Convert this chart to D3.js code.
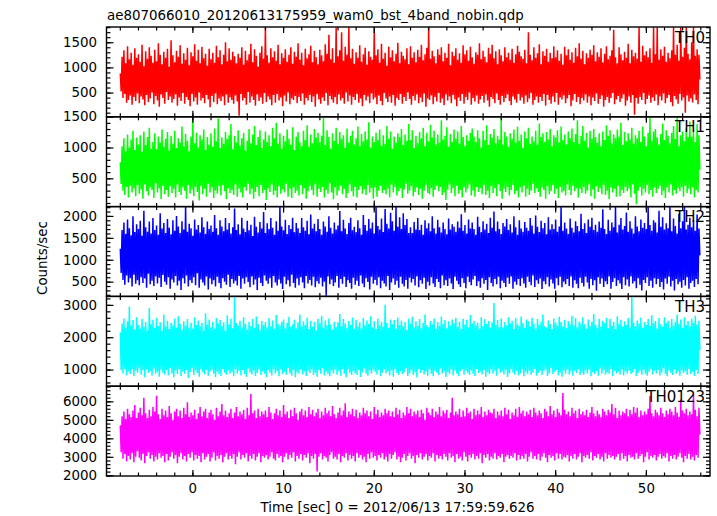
<!DOCTYPE html>
<html><head><meta charset="utf-8">
<script src="https://cdn.jsdelivr.net/npm/d3@7"></script>
<style>body{margin:0;background:#fff}svg{display:block}text{font-family:"DejaVu Sans",sans-serif;fill:#000}</style>
</head><body>
<script>
const title = "ae807066010_20120613175959_wam0_bst_4band_nobin.qdp";
const xLabel = "Time [sec] 0 = 2012/06/13 17:59:59.626";
const yLabel = "Counts/sec";
const seriesNames = ["TH0", "TH1", "TH2", "TH3", "TH0123"];
const seriesColors = ["#ff0000", "#00ff00", "#0000ff", "#00ffff", "#ff00ff"];
const tStart = -7.95, tStep = 0.1;   // sample times of each series (sec)
const xTicks = [0, 10, 20, 30, 40, 50];
const yTicksTH0 = [500, 1000, 1500];
const yTicksTH1 = [500, 1000, 1500];
const yTicksTH2 = [500, 1000, 1500, 2000];
const yTicksTH3 = [1000, 2000, 3000];
const yTicksTH0123 = [2000, 3000, 4000, 5000, 6000];
const yRangeTH0 = [18, 1803];
const yRangeTH1 = [41, 1498];
const yRangeTH2 = [163, 2213];
const yRangeTH3 = [485, 3262];
const yRangeTH0123 = [1962, 6820];

const th0 = [
880,520,1210,390,1340,470,1080,300,1420,350,
1160,440,1290,260,1050,410,1380,330,1190,480,
1260,290,1110,420,1450,360,1020,250,1320,450,
1170,310,1400,380,1230,500,1090,270,1350,430,
1120,340,1480,220,1250,460,1060,390,1310,280,
1190,510,1370,350,1010,420,1540,300,1240,370,
1100,460,1330,240,1210,400,1440,330,1070,490,
1280,280,1150,410,1390,350,1040,230,1300,470,
1220,320,1460,400,1130,260,1350,500,1080,340,
1410,390,1180,290,1270,450,1030,360,1370,210,
1160,430,1290,310,1090,480,1430,270,1200,380,
1340,330,1060,420,1250,250,1500,460,1120,300,
1380,400,1150,350,1310,280,1220,440,1080,320,
1270,40,1190,470,1400,340,1050,390,1330,260,
1140,510,1260,300,1470,420,1100,350,1360,240,
1230,460,1010,330,1290,400,1420,280,1170,490,
1800,310,1240,420,1090,360,1380,250,1200,450,
1320,300,1130,470,1450,340,1060,400,1280,230,
1190,440,1360,320,1110,500,1250,270,1400,380,
1070,350,1310,430,1210,290,1480,410,1150,330,
1290,480,1040,260,1370,390,1180,340,1260,450,
1430,310,1100,420,1330,220,1200,470,1060,360,
1350,280,1240,400,1120,330,1460,490,1270,250,
1650,430,1160,360,1380,300,1090,410,1790,270,
1220,460,1340,340,1700,390,1130,280,1410,500,
1250,320,1800,440,1180,260,1370,410,1070,350,
1300,470,1190,300,1440,380,1110,230,1260,450,
1390,340,1050,420,1320,290,1210,480,1150,360,
1750,400,1240,270,1360,440,1090,330,1470,250,
1170,490,1290,380,1030,310,1410,420,1200,300,
1340,450,1120,240,1270,390,1490,350,1080,470,
1310,280,1230,410,1160,330,1380,500,1060,370,
1420,260,1190,430,1300,340,1100,460,1350,290,
1210,400,1450,310,1140,480,1260,220,1390,380,
1800,350,1170,440,1330,270,1220,410,1080,320,
1360,490,1250,300,1400,380,1120,250,1290,460,
1190,340,1470,420,1040,290,1310,450,1230,360,
1380,230,1150,400,1280,330,1090,470,1440,280,
1260,410,1340,350,1130,500,1410,260,1200,390,
1070,320,1300,440,1250,280,1480,360,1160,430,
1330,300,1210,460,1100,340,1390,220,1270,410,
1450,370,1180,290,1320,480,1060,350,1360,260,
1240,430,1120,310,1400,390,1200,460,1290,330,
1150,250,1370,420,1090,360,1260,300,1430,470,
1310,340,1220,400,1170,280,1350,440,1080,310,
1700,380,1250,490,1140,260,1400,350,1190,420,
1280,300,1460,410,1060,330,1320,470,1230,240,
1370,450,1110,350,1290,280,1180,420,1420,310,
1200,490,1340,260,1130,400,1270,360,1050,440,
1410,290,1240,380,1360,450,1150,230,1300,340,
1090,470,1390,310,1220,410,1480,270,1170,390,
1330,340,1060,460,1280,300,1190,420,1350,250,
1250,400,1440,330,1120,480,1300,280,1210,370,
1380,440,1100,220,1270,350,1420,410,1160,300,
1230,390,1340,490,1750,270,1200,360,1080,430,
1400,310,1260,380,1140,460,1310,240,1190,340,
1470,420,1080,300,1350,450,1220,60,1290,390,
1170,280,1800,410,1110,350,1430,490,1240,270,
1320,370,1200,440,1380,300,1090,400,1800,330,
1260,460,1800,250,1150,420,1360,340,1230,480,
1410,290,1110,390,1290,450,1180,310,1340,230,
1800,430,1250,360,1450,280,1130,470,1800,340,
1210,400,1390,100,1800,440,1270,320,1160,380,
1500,300,1800,460,1230,350,1360,270,1250,760
];
const th1 = [
760,410,1020,300,1150,230,940,360,1210,190,
1000,380,1130,270,1270,340,960,210,1160,390,
1050,250,1200,320,930,170,1260,400,1040,290,
1170,220,1320,350,980,310,1090,180,1230,420,
970,270,1180,340,1080,160,1290,380,1010,240,
1140,310,1250,200,950,370,1190,260,1060,330,
1270,190,990,400,1150,280,1080,230,1340,350,
1020,300,1220,170,1110,390,940,250,1180,320,
1480,210,1070,360,1240,280,1000,140,1200,380,
1130,240,1290,330,960,200,1170,410,1050,270,
1230,350,1010,180,1310,300,1100,250,1470,370,
990,220,1160,390,1060,290,1250,160,1140,340,
1200,260,1380,310,970,230,1190,400,1080,200,
1280,330,1030,270,1150,190,1240,360,950,300,
1110,410,1300,240,1070,330,1210,170,1350,280,
1040,360,1170,210,1280,390,990,260,1130,310,
1260,150,1090,340,1200,280,1020,400,1320,230,
1150,300,1400,190,1060,370,1230,250,980,320,
1190,270,1100,410,1290,200,1140,330,1050,180,
1330,350,960,260,1180,300,1250,220,1080,390,
1020,240,1270,340,1120,170,1360,290,1010,370,
1210,310,1070,230,1300,400,1160,200,1240,330,
1090,280,1190,360,1480,190,1040,310,1280,250,
1170,420,980,270,1230,160,1110,350,1320,220,
1060,300,1250,380,1140,240,1200,330,990,180,
1310,260,1080,400,1190,290,1270,210,1050,360,
1150,190,1340,310,1020,370,1220,250,1100,320,
1260,230,1130,390,1410,270,1000,340,1180,170,
1090,350,1240,200,1120,300,1290,380,1030,260,
1200,310,1060,240,1350,330,1140,190,1260,400,
980,270,1180,360,1080,220,1230,290,1170,340,
1300,180,1040,320,1210,410,1110,250,1380,300,
1120,370,1280,210,990,280,1190,350,1070,230,
1250,330,1150,170,1320,300,1020,390,1240,260,
1100,240,1370,340,1160,200,1270,310,1050,380,
1210,290,1080,360,1440,230,1130,270,1190,150,
1330,320,1010,400,1220,260,1090,340,1290,210,
1140,380,1260,250,1060,310,1350,190,1170,350,
1030,270,1200,330,1110,400,1240,220,1310,300,
1180,200,1090,360,1280,280,1150,340,1000,240,
1270,390,1120,230,1360,300,1040,180,1220,370,
1160,260,1300,340,1070,210,1190,400,1130,290,
1480,170,1050,330,1250,280,1180,360,1010,220,
1230,310,1140,390,1290,240,1080,300,1340,190,
1110,350,1210,270,990,380,1260,200,1150,330,
1320,230,1060,300,1180,410,1100,260,1270,340,
1040,280,1390,200,1170,350,1230,310,1090,170,
1250,370,1130,240,1300,290,1020,390,1200,250,
1160,330,1280,180,1080,360,1340,270,1120,300,
1210,220,1050,400,1260,310,1150,230,1310,380,
1090,290,1220,340,1440,190,1060,330,1190,260,
1350,360,1110,250,1240,300,1000,400,1270,210,
1140,320,1300,170,1170,370,1080,280,1230,340,
1020,240,1260,390,1120,230,1360,300,1190,160,
1280,350,1070,270,1210,330,1150,200,1290,380,
1180,210,1400,310,1040,260,1250,360,1100,290,
1230,340,1130,190,1320,400,1060,250,1200,80,
1150,300,1270,360,1090,220,1340,330,1180,270,
1020,390,1240,240,1480,310,1110,200,1260,350,
1300,260,1160,330,1050,380,1220,230,1390,300,
1120,180,1280,350,1190,270,1070,400,1240,220,
1350,310,1140,250,1480,340,1020,290,1200,360,
1260,200,1100,380,1310,260,1170,330,1420,240,
1180,350,1250,190,1090,310,1380,270,1200,640
];
const th2 = [
1250,700,1680,540,1850,430,1590,640,1920,480,
1720,580,1560,390,1990,660,1630,450,1810,530,
1700,420,1890,600,1550,470,2120,570,1740,360,
1640,680,1870,440,1600,520,1950,400,1680,620,
1780,460,1570,590,2060,380,1710,650,1840,500,
1610,430,1930,600,1730,340,1580,550,1900,480,
1660,630,2000,410,1760,520,1610,310,1880,580,
1690,460,2213,640,1640,390,1820,530,1720,470,
1550,600,1920,420,1690,690,1790,360,1620,550,
1970,480,1740,410,1590,620,1870,320,1700,570,
1780,440,1640,530,2020,390,1720,610,1570,470,
1900,350,1760,580,1650,500,1950,430,1690,660,
1840,380,1600,560,1740,460,2170,520,1680,410,
1810,630,1580,340,1960,570,1710,450,1630,600,
1890,490,1670,370,1800,620,1540,430,1980,550,
1750,310,1620,590,1860,470,1710,400,2090,640,
1610,520,1830,450,1700,580,1950,360,1730,630,
1570,480,1880,410,1660,550,2213,460,1760,330,
1670,610,1910,440,1590,530,1790,390,1700,660,
1960,470,1630,360,1840,570,1720,420,1610,600,
1950,480,1740,350,1660,630,1890,460,1580,540,
2030,410,1710,610,1820,370,1650,510,1930,450,
1700,590,1570,390,1870,500,1760,180,1640,620,
1990,440,1730,550,1600,400,1850,480,1690,630,
1780,360,2110,560,1650,450,1910,610,1710,380,
1590,530,1840,470,1960,340,1670,590,1750,430,
1630,520,1900,400,1720,640,1570,460,2020,370,
1790,580,1660,490,1930,320,1710,610,1850,450,
1600,540,2213,420,1770,600,1690,350,1940,520,
1630,460,2160,390,1820,630,1710,310,2070,480,
1880,570,1660,430,2213,520,1750,360,1970,610,
1700,450,2060,390,1790,540,1930,340,1610,590,
1740,480,1610,560,1860,410,1690,620,1950,370,
1680,530,1800,450,1570,590,1900,330,1720,500,
1830,410,1650,600,1990,460,1720,380,1600,560,
1910,490,1740,350,1620,640,1850,420,1700,530,
1580,400,1940,570,1690,460,1810,330,1750,610,
1640,520,1870,440,1730,380,2040,580,1660,470,
1790,350,1600,610,1920,490,1710,420,1850,550,
1700,630,1570,400,1980,510,1750,360,1630,580,
1880,450,1690,540,1820,310,1610,600,1960,470,
1730,390,2100,560,1650,440,1870,610,1700,350,
1590,520,1840,470,1760,380,1930,590,1680,450,
1810,620,1620,340,1990,500,1740,430,1570,560,
1900,400,1710,580,1640,460,1860,360,1730,610,
1660,490,1950,420,1780,640,1600,380,2010,530,
1750,450,1630,570,1890,330,1720,510,1840,440,
1580,600,1970,390,1690,550,1810,460,1700,340,
1920,580,1640,420,1760,610,2213,370,1660,500,
1850,440,1710,560,1590,400,1940,620,1730,360,
1620,530,1880,450,1770,350,1650,590,2050,470,
1700,390,1830,610,1610,480,1920,340,1750,560,
1960,420,1680,530,1800,290,1640,600,1870,450,
1730,570,2150,380,1700,510,1590,440,1910,620,
1660,340,1850,490,1740,580,2213,400,1620,530,
1800,460,1950,330,1690,600,1770,420,2080,550,
1640,390,1880,620,1710,460,1600,510,1990,350,
1760,580,1650,430,1920,300,1730,540,1840,470,
1700,600,2213,400,1790,520,1660,360,1900,580,
1850,440,1620,560,2120,380,1750,490,1970,320,
1690,570,1830,450,1720,610,2213,390,1650,520,
1940,300,1770,560,1600,440,2050,500,1720,360,
1880,540,2213,410,1690,600,1800,340,1960,470,
1740,520,1900,380,1660,560,2030,440,1710,1100
];
const th3 = [
2150,980,2420,880,2580,1020,2300,820,2490,940,
2950,860,2360,1010,2530,790,2240,960,2620,900,
2380,1040,2270,840,2560,980,2320,760,2470,1000,
2210,890,2900,950,2400,810,2540,1030,2290,870,
2600,930,2350,780,2460,1000,2200,900,2700,850,
2330,990,2510,820,2250,1050,2440,880,2370,760,
2580,960,2290,860,2650,1010,2410,800,2230,940,
2490,870,2360,990,2560,740,2300,920,2450,1040,
2270,830,2620,970,2380,890,2520,780,2340,1010,
2450,920,2210,850,2740,990,2390,810,2550,950,
2310,1000,2480,880,2260,760,2590,930,2420,860,
2530,800,2350,1020,2460,900,2200,840,2680,970,
2390,870,2570,930,2280,790,3262,1010,2440,880,
2360,960,2510,820,2300,990,2620,860,2410,780,
2240,1030,2480,910,2350,850,2560,970,2290,800,
2640,890,2400,1000,2220,830,2500,940,2380,870,
2470,760,2300,980,2590,900,2340,820,2520,1020,
2260,880,2690,950,2410,790,2360,1000,2480,860,
2550,930,2280,840,2450,1050,2630,880,2320,810,
2400,990,2540,760,2270,920,2460,870,2700,1000,
2340,850,2490,940,2380,800,2600,960,2250,890,
2510,1010,2320,830,2470,900,2210,780,2560,980,
2430,870,2660,1040,2300,820,2520,930,2370,860,
2580,790,2390,970,2240,880,2480,1000,2310,840,
2460,950,2720,810,2350,1020,2560,870,2420,760,
2290,1000,2500,900,2380,830,2610,950,2260,880,
2540,840,2330,990,2460,770,2280,910,2590,1030,
2370,870,2520,810,2410,960,2650,880,2300,1000,
2490,930,2250,850,2580,990,2360,790,2470,900,
2320,1010,3000,880,2440,940,2290,820,2550,970,
2400,780,2530,1000,2260,890,2610,830,2380,950,
2510,860,2340,920,2470,1040,2220,800,2570,880,
2420,990,2630,840,2300,910,2490,760,2350,1020,
2560,890,2280,980,2440,850,2700,930,2370,810,
2310,1000,2500,870,2400,790,2580,960,2260,900,
2470,830,2350,1030,2640,880,2410,940,2530,770,
2280,920,2490,860,2360,1000,2550,820,2430,970,
2600,880,2320,790,2480,950,2250,1010,2570,840,
2390,960,2540,900,2300,830,2690,980,2420,870,
2510,800,2370,1020,2450,890,2270,940,2620,850,
2340,990,2560,780,2410,920,2500,860,2290,1000,
2460,870,3060,960,2380,810,2530,1030,2310,900,
2580,940,2300,850,2470,990,2360,770,2620,880,
2420,1010,2510,910,2250,840,2590,960,2400,820,
2350,880,2640,1000,2440,790,2290,930,2550,870,
2490,960,2330,840,2600,900,2420,1020,2270,810,
2560,890,2390,970,2480,830,2700,950,2340,1000,
2300,800,2520,880,2410,1040,2250,860,2580,930,
2450,990,2360,820,2630,910,2470,780,2320,970,
2540,870,2280,1000,2500,850,2390,940,2660,810,
2370,960,2590,890,2310,1010,2480,830,2420,900,
2620,840,2400,970,2260,880,2550,1000,2350,790,
2480,920,2720,860,2390,950,2300,810,2570,1030,
2330,880,2510,990,2440,840,2600,910,2280,870,
2560,1010,2360,790,2470,960,2250,880,2650,930,
2410,850,2540,1000,2320,820,2490,940,2380,880,
2590,970,2300,860,3262,910,2450,1020,2340,790,
2520,900,2420,960,2610,840,2290,990,2470,870,
2380,810,2560,930,2350,1010,2680,850,2430,960,
2500,880,2270,990,2590,820,2400,920,2330,1040,
2620,860,2440,790,2510,970,2300,900,2570,830,
2360,1000,2480,870,2700,940,2410,810,2550,980,
2290,890,2620,950,2380,840,2500,1020,2340,860,
2570,930,2450,800,2660,990,2390,870,2510,1600
];
const th0123 = [
4700,3250,5200,2900,5450,3150,5050,2750,5600,3050,
5300,2850,5150,3200,5500,2700,5800,3000,5100,3300,
5400,2950,5650,2800,5250,3150,6200,2650,5350,3050,
5100,3250,5550,2900,5200,3100,5700,2750,5450,3000,
6300,2850,5300,3200,5050,2950,5600,3050,5250,2700,
5500,3150,5150,2800,5750,3000,5350,3250,5000,2900,
5450,3100,5600,2650,5200,3000,5500,3200,5100,2850,
5650,3050,5300,2750,5950,3150,5150,2950,5400,3250,
5250,2800,5550,3100,5050,2900,5350,3050,5700,2700,
5200,3200,5450,2850,5600,3000,5100,3150,5400,2750,
5550,2950,5300,3250,5000,2800,5650,3050,5200,2900,
5450,3100,5850,2700,5250,3000,5500,3200,5150,2850,
5350,3050,5600,2900,5100,3150,5400,2600,5700,3000,
5200,3250,5450,2850,5300,3100,5550,2950,5050,3200,
5650,2750,5250,3050,6400,2900,5350,3150,5500,2800,
5100,3000,5600,3200,5200,2700,5450,3050,5300,2950,
5500,3100,5150,2850,5700,3000,5400,3250,5050,2900,
5350,2800,5600,3150,5250,2950,5500,3050,5150,2700,
5800,3000,5300,3200,5450,2850,5100,3100,5550,2950,
5200,3250,5650,2750,5350,3050,5000,2900,5450,3150,
5600,2800,5250,3100,5500,2950,5150,3200,5700,2650,
5300,3050,5550,2900,5200,3150,5400,2200,5600,3000,
5100,3200,5450,2850,5250,3050,5650,2950,5350,2750,
5500,3100,5200,3250,5750,2900,5300,3000,5100,2850,
5400,3150,5650,2700,5250,3050,5500,2950,5900,3200,
5150,2800,5450,3100,5300,2900,5600,3050,5200,2750,
5550,3200,5100,2950,5400,3100,5250,2850,5650,3000,
5350,2700,5500,3150,5200,2900,5450,3250,5050,2950,
5700,3050,5300,2800,5550,3100,5150,2950,5400,3200,
5250,2850,5600,3000,5350,2750,5500,3150,5200,2900,
5450,3100,5150,3250,5650,2850,5300,3000,5550,2700,
5100,2950,5400,3150,5250,2800,5700,3050,5350,3200,
5600,2900,5200,3050,5450,2650,5300,3100,5500,2950,
5150,3200,5550,2850,5350,3000,5000,3150,5650,2800,
5400,3050,5250,2950,5600,3200,5150,2750,5450,3100,
5300,2900,5700,3050,5200,2850,5500,3150,5350,3000,
5550,2800,5100,3200,5400,2950,6200,3050,5250,2700,
5450,3150,5300,2900,5600,3000,5150,2800,5500,3250,
5200,3000,5650,2750,5350,3100,5450,2950,5050,3150,
5600,2850,5250,3050,5500,2900,5300,3200,5700,2650,
5150,3100,5450,2950,5250,3150,5550,2800,5400,3000,
5350,2900,5600,3200,5100,2850,5450,3050,5250,2950,
5500,3150,5200,2700,5650,3000,5300,3100,5550,2900,
5050,3050,5400,2950,5250,3200,5600,2800,5150,3100,
5700,2850,5350,3050,5500,2900,5200,3150,5450,2750,
5300,3000,5550,3250,5150,2900,5650,3050,5400,2850,
5250,3150,5500,2800,5350,3000,5100,3200,5600,2950,
5450,2700,5200,3100,5750,2950,5300,3050,5500,2800,
5150,3200,5600,2900,5400,3150,5250,2850,6450,3000,
5550,2950,5300,3100,5450,2750,5200,3050,5650,2900,
5350,3150,5500,2850,5100,3000,5600,3200,5300,2700,
5450,3050,5250,2950,5550,3100,5150,2900,5400,3250,
5700,2800,5350,3050,5200,2950,5500,3150,5300,2850,
5150,3000,5600,2750,5450,3200,5250,2900,5550,3100,
5400,2950,5850,3050,5300,2850,5650,3000,5100,3150,
5500,2800,5250,3200,5450,2900,5350,3050,5600,2750,
5200,3100,5550,2950,5300,3000,5700,2850,5400,3200,
5650,2900,5150,3050,5500,3150,5250,2700,5450,3000,
5300,3250,5600,2850,6300,3050,5350,2950,5200,3100,
5550,2800,5400,3000,5250,3150,5650,2900,5350,3050,
5150,2950,5500,3200,5300,2750,5600,3050,5450,2900,
5250,3100,5700,2850,5400,3000,5150,3200,6100,2950,
5500,2700,5350,3050,5600,2900,5250,3150,5450,2850,
5300,3000,6400,2800,5550,3100,5200,2950,5650,4200
];

const series = [th0, th1, th2, th3, th0123];
const yTicks = [yTicksTH0, yTicksTH1, yTicksTH2, yTicksTH3, yTicksTH0123];
const yRanges = [yRangeTH0, yRangeTH1, yRangeTH2, yRangeTH3, yRangeTH0123];
const yMinorStep = [100, 100, 100, 200, 200];

const W = 717, H = 516;
const plotLeft = 106.5, plotRight = 710, plotTop = 27, panelH = 89.8;
const plotBottom = plotTop + panelH * 5;

const svg = d3.select("body").append("svg").attr("width", W).attr("height", H);
const x = d3.scaleLinear().domain([-9.47, 57.07]).range([plotLeft, plotRight]);
const xMinor = d3.range(-8, 57, 2);

svg.append("text").attr("x", 107).attr("y", 20).style("font-size", "13.4px").text(title);

series.forEach((vals, k) => {
  const y0 = plotTop + k * panelH, y1 = y0 + panelH;
  const y = d3.scaleLinear().domain(yRanges[k]).range([y1, y0]);
  const g = svg.append("g");
  const cid = "clip" + k;
  svg.append("clipPath").attr("id", cid).append("rect")
    .attr("x", plotLeft).attr("y", y0).attr("width", plotRight - plotLeft).attr("height", panelH);
  const line = d3.line().x((d, i) => x(tStart + i * tStep)).y(d => y(d));
  g.append("path").datum(vals).attr("clip-path", `url(#${cid})`)
    .attr("fill", "none").attr("stroke", seriesColors[k]).attr("stroke-width", 1.5)
    .attr("stroke-linejoin", "miter").attr("d", line);

  const minorY = d3.range(Math.ceil(yRanges[k][0] / yMinorStep[k]) * yMinorStep[k], yRanges[k][1], yMinorStep[k]);
  const styleAxis = sel => { sel.select(".domain").remove(); sel.selectAll("line").attr("stroke", "#000").attr("stroke-width", 1.2); };

  g.append("g").attr("transform", `translate(${plotLeft},0)`)
    .call(d3.axisLeft(y).tickValues(yTicks[k]).tickSize(-7).tickSizeOuter(0).tickPadding(9.5).tickFormat(d3.format("d")))
    .call(styleAxis).call(s => s.selectAll("text").style("font-size", "13.4px").attr("font-family", "DejaVu Sans").attr("fill", "#000"));
  g.append("g").attr("transform", `translate(${plotLeft},0)`)
    .call(d3.axisLeft(y).tickValues(minorY).tickSize(-4).tickSizeOuter(0).tickFormat(""))
    .call(styleAxis);
  g.append("g").attr("transform", `translate(${plotRight},0)`)
    .call(d3.axisRight(y).tickValues(yTicks[k]).tickSize(-7).tickSizeOuter(0).tickFormat(""))
    .call(styleAxis);
  g.append("g").attr("transform", `translate(${plotRight},0)`)
    .call(d3.axisRight(y).tickValues(minorY).tickSize(-4).tickSizeOuter(0).tickFormat(""))
    .call(styleAxis);
  [[y0, d3.axisTop], [y1, d3.axisBottom]].forEach(([yy, ax]) => {
    g.append("g").attr("transform", `translate(0,${yy})`)
      .call(ax(x).tickValues(xTicks).tickSize(-6).tickSizeOuter(0).tickFormat(""))
      .call(styleAxis);
    g.append("g").attr("transform", `translate(0,${yy})`)
      .call(ax(x).tickValues(xMinor).tickSize(-3.5).tickSizeOuter(0).tickFormat(""))
      .call(styleAxis);
  });
  g.append("rect").attr("x", plotLeft).attr("y", y0).attr("width", plotRight - plotLeft).attr("height", panelH)
    .attr("fill", "none").attr("stroke", "#000").attr("stroke-width", 1.4);
  g.append("text").attr("x", 705).attr("y", y0 + 15.5).attr("text-anchor", "end")
    .style("font-size", "15px").text(seriesNames[k]);
});

svg.append("g").attr("transform", `translate(0,${plotBottom})`)
  .call(d3.axisBottom(x).tickValues(xTicks).tickSize(0).tickPadding(7.5).tickFormat(d3.format("d")))
  .call(s => s.select(".domain").remove())
  .call(s => s.selectAll("text").style("font-size", "13.4px").attr("font-family", "DejaVu Sans").attr("fill", "#000"));

svg.append("text").attr("x", 397.5).attr("y", 511.5).attr("text-anchor", "middle")
  .style("font-size", "13.4px").text(xLabel);
svg.append("text").attr("transform", "translate(46.5,258) rotate(-90)").attr("text-anchor", "middle")
  .style("font-size", "13.4px").text(yLabel);
</script>
</body></html>
